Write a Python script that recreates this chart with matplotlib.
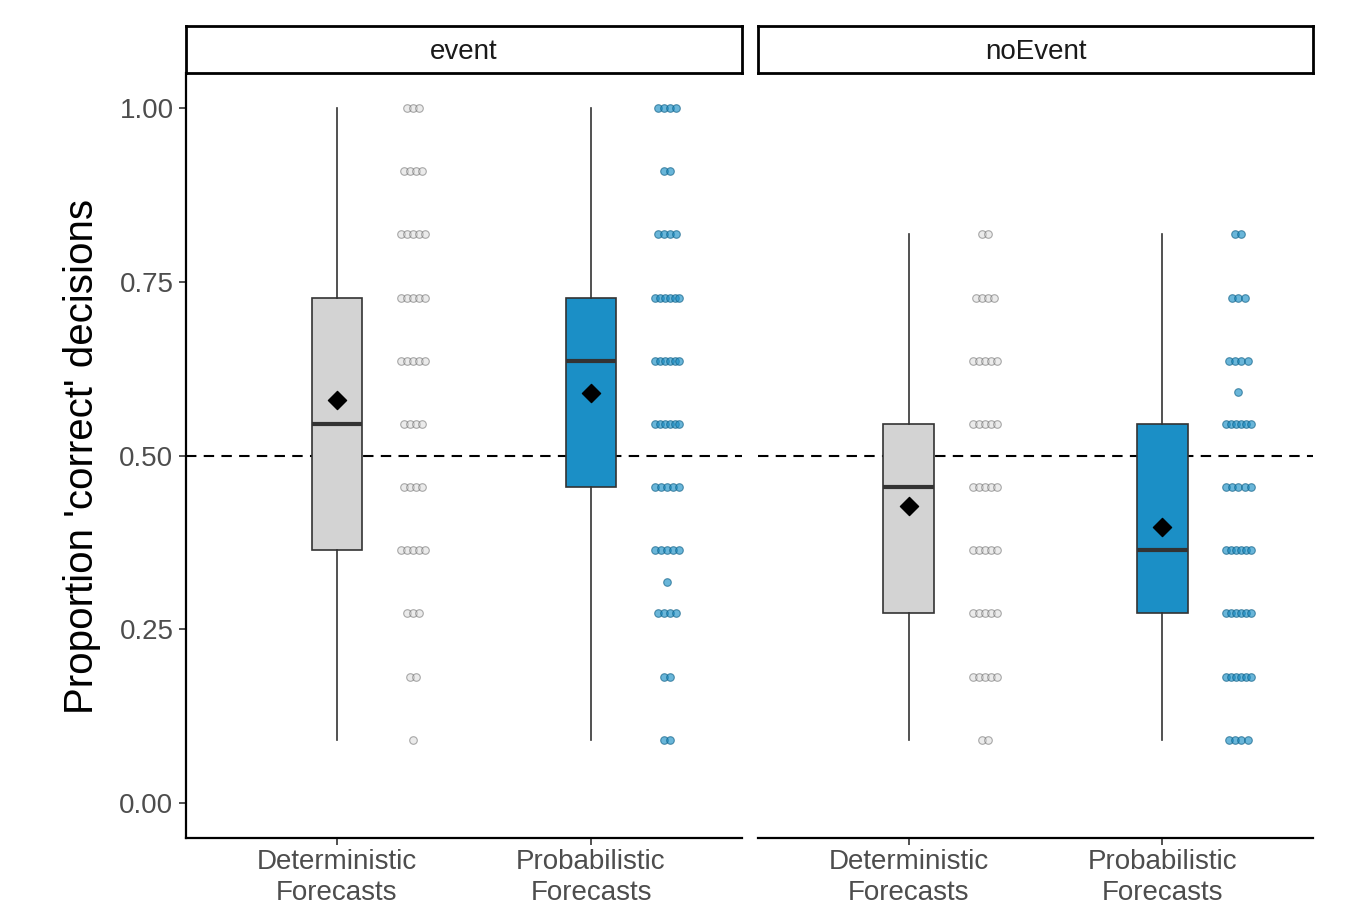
import matplotlib

matplotlib.use("Agg")
import matplotlib.pyplot as plt
import numpy as np

plt.rcParams["font.family"] = ["Liberation Sans", "DejaVu Sans"]

W, H = 1345, 909

PANELS = ["event", "noEvent"]
CONDITIONS = ["Deterministic\nForecasts", "Probabilistic\nForecasts"]
Y_TICKS = [0.0, 0.25, 0.5, 0.75, 1.0]
Y_TICK_LABELS = ["0.00", "0.25", "0.50", "0.75", "1.00"]

# box summaries: [deterministic, probabilistic]
event_whislo = [0.091, 0.091]
event_q1 = [0.364, 0.455]
event_med = [0.545, 0.636]
event_q3 = [0.727, 0.727]
event_whishi = [1.000, 1.000]
event_mean = [0.580, 0.590]

noevent_whislo = [0.091, 0.091]
noevent_q1 = [0.273, 0.273]
noevent_med = [0.455, 0.364]
noevent_q3 = [0.545, 0.545]
noevent_whishi = [0.818, 0.818]
noevent_mean = [0.427, 0.397]

# individual proportions (value levels and number of participants at each)
event_det_vals = [1.000, 0.909, 0.818, 0.727, 0.636, 0.545, 0.455, 0.364, 0.273, 0.182, 0.091]
event_det_counts = [3, 4, 5, 5, 5, 4, 4, 5, 3, 2, 1]
event_prob_vals = [1.000, 0.909, 0.818, 0.727, 0.636, 0.545, 0.455, 0.364, 0.318, 0.273, 0.182, 0.091]
event_prob_counts = [4, 2, 4, 6, 6, 6, 5, 5, 1, 4, 2, 2]
noevent_det_vals = [0.818, 0.727, 0.636, 0.545, 0.455, 0.364, 0.273, 0.182, 0.091]
noevent_det_counts = [2, 4, 5, 5, 5, 5, 5, 5, 2]
noevent_prob_vals = [0.818, 0.727, 0.636, 0.591, 0.545, 0.455, 0.364, 0.273, 0.182, 0.091]
noevent_prob_counts = [2, 3, 4, 1, 6, 5, 6, 6, 6, 4]

BOX_COLORS = ["#d3d3d3", "#1b8fc6"]
DOT_FACE = ["#d9d9d9", "#1b8fc6"]
DOT_EDGE = ["#5a5a5a", "#0d5f86"]
DOT_ALPHA = [0.5, 0.65]


def frac(x0, y0, x1, y1):
    return [x0 / W, 1 - y1 / H, (x1 - x0) / W, (y1 - y0) / H]


def draw_panel(ax, whislo, q1, med, q3, whishi, mean, dots):
    stats = []
    for i in range(2):
        stats.append(dict(whislo=whislo[i], q1=q1[i], med=med[i], q3=q3[i],
                          whishi=whishi[i], fliers=[]))
    bp = ax.bxp(stats, positions=[1, 2], widths=0.2, patch_artist=True,
                showcaps=False, showfliers=False, manage_ticks=False,
                boxprops=dict(edgecolor="#333333", linewidth=1.2),
                medianprops=dict(color="#333333", linewidth=3),
                whiskerprops=dict(color="#333333", linewidth=1.2))
    for patch, c in zip(bp["boxes"], BOX_COLORS):
        patch.set_facecolor(c)
    for el in bp["boxes"] + bp["whiskers"] + bp["medians"]:
        el.set_zorder(2)
    ax.scatter([1, 2], mean, marker="D", s=85, color="black", zorder=4)

    for i, (vals, counts) in enumerate(dots):
        for v, n in zip(vals, counts):
            half = min(n - 1, 4) * 0.012
            xs = i + 1 + 0.3 + np.linspace(-half, half, n)
            ax.scatter(xs, [v] * n, s=30, facecolor=DOT_FACE[i], edgecolor=DOT_EDGE[i],
                       linewidth=0.8, alpha=DOT_ALPHA[i], zorder=3)


def main():
    fig = plt.figure(figsize=(W / 100, H / 100), dpi=100)

    bounds = [(186, 742), (758, 1313)]
    data = [
        (event_whislo, event_q1, event_med, event_q3, event_whishi, event_mean,
         [(event_det_vals, event_det_counts), (event_prob_vals, event_prob_counts)]),
        (noevent_whislo, noevent_q1, noevent_med, noevent_q3, noevent_whishi, noevent_mean,
         [(noevent_det_vals, noevent_det_counts), (noevent_prob_vals, noevent_prob_counts)]),
    ]

    for k, (name, (x0, x1), d) in enumerate(zip(PANELS, bounds, data)):
        ax = fig.add_axes(frac(x0, 73, x1, 838))
        ax.set_xlim(0.406, 2.594)
        ax.set_ylim(-0.05, 1.05)
        ax.axhline(0.5, color="black", linewidth=1.5, linestyle=(0, (5, 3.5)), zorder=1)
        draw_panel(ax, *d)

        ax.spines["top"].set_visible(False)
        ax.spines["right"].set_visible(False)
        ax.spines["bottom"].set_linewidth(1.6)
        ax.spines["left"].set_linewidth(1.6)
        ax.set_xticks([1, 2])
        ax.set_xticklabels(CONDITIONS, fontsize=20, color="#4d4d4d", linespacing=1.25)
        ax.tick_params(axis="both", length=5, width=1.2, color="#333333", pad=3)
        ax.tick_params(axis="y", pad=4)
        if k == 0:
            ax.set_yticks(Y_TICKS)
            ax.set_yticklabels(Y_TICK_LABELS, fontsize=20, color="#4d4d4d")
        else:
            ax.spines["left"].set_visible(False)
            ax.set_yticks([])

        sax = fig.add_axes(frac(x0, 26, x1, 73))
        sax.set_xticks([])
        sax.set_yticks([])
        for sp in sax.spines.values():
            sp.set_linewidth(2)
        sax.text(0.5, 0.45, name, ha="center", va="center", fontsize=20,
                 color="#1a1a1a", transform=sax.transAxes)

    fig.text(82 / W, 1 - 456 / H, "Proportion 'correct' decisions", rotation=90,
             ha="center", va="center", fontsize=29, color="black")

    fig.savefig("out.png", dpi=100)
    plt.close(fig)


if __name__ == "__main__":
    main()
